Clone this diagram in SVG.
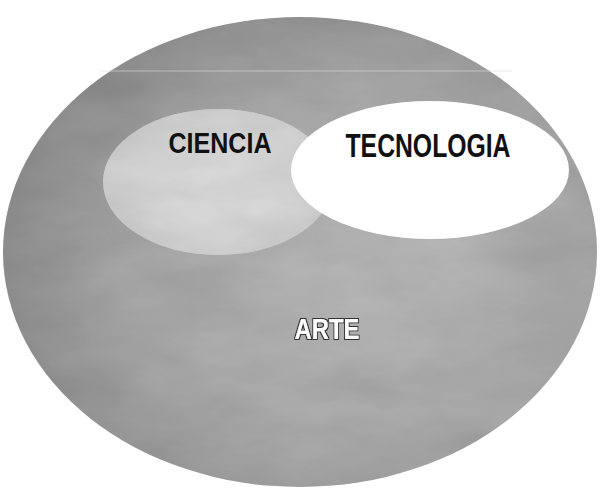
<svg xmlns="http://www.w3.org/2000/svg" width="601" height="489" viewBox="0 0 601 489">
  <style>
    .lbl { font-family: "Liberation Sans", Arial, sans-serif; font-weight: bold; }
  </style>
  <defs>
    <filter id="tex" x="0" y="0" width="100%" height="100%">
      <feTurbulence type="fractalNoise" baseFrequency="0.012 0.03" numOctaves="4" seed="7" result="n"/>
      <feColorMatrix in="n" type="matrix" values="0.33 0.33 0.33 0 0  0.33 0.33 0.33 0 0  0.33 0.33 0.33 0 0  0 0 0 0 0.35" result="g"/>
      <feComposite in="g" in2="SourceGraphic" operator="in" result="gc"/>
      <feBlend in="gc" in2="SourceGraphic" mode="multiply"/>
    </filter>
    <radialGradient id="outerG" cx="0.62" cy="0.55" r="0.7">
      <stop offset="0" stop-color="#c4c4c4"/>
      <stop offset="0.6" stop-color="#b0b0b0"/>
      <stop offset="1" stop-color="#8e8e8e"/>
    </radialGradient>
    <radialGradient id="cienG" cx="0.5" cy="0.5" r="0.6">
      <stop offset="0" stop-color="#ececec"/>
      <stop offset="1" stop-color="#d8d8d8"/>
    </radialGradient>
    <filter id="shadow" x="-10%" y="-20%" width="120%" height="140%">
      <feMorphology in="SourceAlpha" operator="dilate" radius="1" result="d"/>
      <feFlood flood-color="#333"/>
      <feComposite in2="d" operator="in" result="o"/>
      <feMerge><feMergeNode in="o"/><feMergeNode in="SourceGraphic"/></feMerge>
    </filter>
  </defs>
  <rect width="601" height="489" fill="#ffffff"/>
  <g id="arte">
    <ellipse cx="300" cy="252" rx="297" ry="235" fill="url(#outerG)" filter="url(#tex)"/>
    <line x1="100" y1="71" x2="512" y2="71" stroke="#dcdcdc" stroke-width="1" opacity="0.6"/>
    <text class="lbl" x="327" y="339" font-size="30" text-anchor="middle" textLength="65" lengthAdjust="spacingAndGlyphs" fill="#ffffff" filter="url(#shadow)">ARTE</text>
  </g>
  <g id="ciencia">
    <ellipse cx="218" cy="182" rx="115" ry="73" fill="url(#cienG)" filter="url(#tex)"/>
    <text class="lbl" x="220" y="153" font-size="29" text-anchor="middle" textLength="103" lengthAdjust="spacingAndGlyphs" fill="#111111">CIENCIA</text>
  </g>
  <g id="tecnologia">
    <ellipse cx="430" cy="170" rx="139" ry="69" fill="#ffffff"/>
    <text class="lbl" x="428" y="157" font-size="33" text-anchor="middle" textLength="165" lengthAdjust="spacingAndGlyphs" fill="#111111">TECNOLOGIA</text>
  </g>
  <g id="connectors"/>
</svg>
